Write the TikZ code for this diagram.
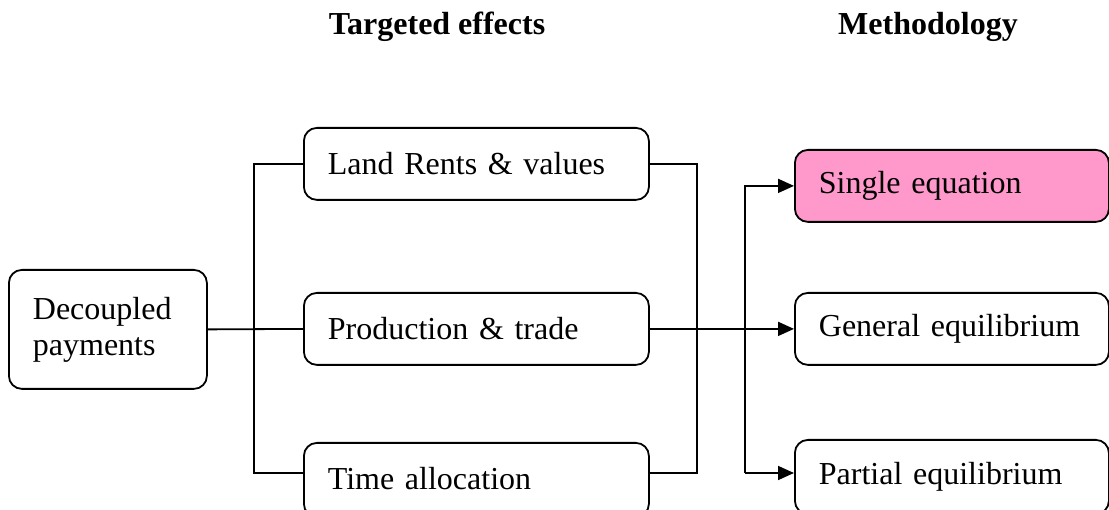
\documentclass[tikz,border=0pt]{standalone}
\usepackage{fontspec}
\setmainfont{Liberation Serif}
\usetikzlibrary{arrows.meta}
\definecolor{pinkfill}{RGB}{255,153,204}
\begin{document}
\begin{tikzpicture}[x=1pt,y=-1pt,
  box/.style={draw, line width=1.8pt, rounded corners=13pt, anchor=north west,
    inner xsep=24pt, inner ysep=0pt, align=left,
    font=\fontsize{32}{36}\selectfont},
  conn/.style={line width=1.8pt},
  arr/.style={conn, -{Triangle[length=16pt,width=14pt]}},
  title/.style={font=\fontsize{32}{36}\selectfont\bfseries, anchor=base}]
\clip (0,0) rectangle (1109,510);
\useasboundingbox (0,0) rectangle (1109,510);

\node[title] (t1) at (437,35) {Targeted effects};
\node[title] (t2) at (928,35) {Methodology};

\node[box, minimum width=198pt, minimum height=119pt, text width=150pt] (dec) at (8,269) {Decoupled\\payments};
\node[box, minimum width=345pt, minimum height=72pt, text width=297pt] (land) at (303,127) {Land Rents \& values};
\node[box, minimum width=345pt, minimum height=72pt, text width=297pt] (prod) at (303,292) {Production \& trade};
\node[box, minimum width=345pt, minimum height=74pt, text width=297pt] (time) at (303,442) {\raisebox{4pt}{Time allocation}};

\node[box, fill=pinkfill, minimum width=314pt, minimum height=72pt, text width=266pt] (single) at (794,149) {Single equation};
\node[box, minimum width=314pt, minimum height=72pt, text width=266pt] (gen) at (794,292) {General equilibrium};
\node[box, minimum width=314pt, minimum height=74pt, text width=266pt] (part) at (794,439) {\raisebox{2pt}{Partial equilibrium}};

\coordinate (jlb) at (254,473);
\coordinate (jrb) at (697,473);
\coordinate (jab) at (745,473);

\draw[conn] (dec.east) -- (prod.west);
\draw[conn] (land.west) -| (jlb) -- (time.west |- jlb);
\draw[conn] (land.east) -| (jrb) -- (time.east |- jrb);
\draw[arr] (prod.east) -- (gen.west);
\draw[arr] (jab) |- (single.west);
\draw[arr] (jab) -- (part.west |- jab);
\end{tikzpicture}
\end{document}
